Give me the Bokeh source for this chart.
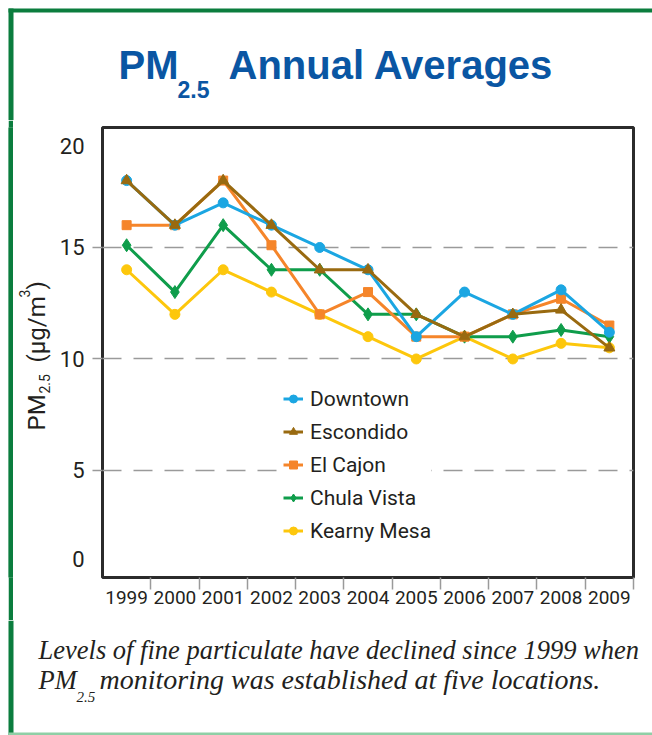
from bokeh.plotting import figure
from bokeh.layouts import column, row
from bokeh.models import FixedTicker, Legend, LegendItem, Range1d, Spacer
from bokeh.core.properties import value
from bokeh.embed import file_html
from bokeh.resources import INLINE
import math

# ---------------- data ----------------
years = [1999, 2000, 2001, 2002, 2003, 2004, 2005, 2006, 2007, 2008, 2009]
year_labels = [str(y) for y in years]
downtown = [18, 16, 17, 16, 15, 14, 11, 13, 12, 13.1, 11.2]
escondido = [18, 16, 18, 16, 14, 14, 12, 11, 12, 12.2, 10.5]
el_cajon = [16, 16, 18, 15.1, 12, 13, 11, 11, 12, 12.7, 11.5]
chula_vista = [15.1, 13, 16, 14, 14, 12, 12, 11, 11, 11.3, 11]
kearny_mesa = [14, 12, 14, 13, 12, 11, 10, 11, 10, 10.7, 10.5]
y_grid_values = [5, 10, 15]
y_tick_labels = ["0", "5", "10", "15", "20"]

PAGE_W = 652
SANS = "Roboto"
TXT = "#231f20"
GREEN = "#0b7d3e"
LIGHT_GREEN = "#8fcfa6"
BLUE = "#0a56a3"


def pix_fig(w, h, x0=0, y0=0, bt=0, bb=0):
    """Decoration figure whose data units are page pixels (y downward)."""
    f = figure(width=w, height=h, output_backend="svg", toolbar_location=None,
               title=None,
               x_range=Range1d(x0, x0 + w), y_range=Range1d(y0 + h - bb, y0 + bt),
               x_axis_type=None, y_axis_type=None,
               min_border=0, min_border_left=0, min_border_right=0,
               min_border_top=bt, min_border_bottom=bb,
               outline_line_color=None, background_fill_color="white",
               border_fill_color="white")
    return f


def txt(f, text, x, y, size, font, color, style="normal", angle=0.0):
    """x, y: page position of the text's start point on its baseline."""
    if angle == 0.0:
        px, py = x, y - 0.4 * size
    else:  # rotated 90 deg counter-clockwise, baseline is vertical at x
        px, py = x - 0.4 * size, y
    f.text(x=[px], y=[py], text=[text], angle=angle,
           text_font=value(font), text_font_size=f"{size}px",
           text_color=color, text_font_style=style,
           text_align="left", text_baseline="middle")


# ---------------- title strip (page y 0..120) ----------------
T_H = 120
tf = pix_fig(PAGE_W, T_H)
tf.quad(left=[8], right=[PAGE_W], top=[8], bottom=[12], fill_color=GREEN, line_color=None)
tf.quad(left=[8], right=[13], top=[8], bottom=[T_H], fill_color=GREEN, line_color=None)
TFONT = "Liberation Sans"
txt(tf, "PM", 118, 80, 40, TFONT, BLUE, "bold")
txt(tf, "2.5", 177, 98, 23, TFONT, BLUE, "bold")
txt(tf, "Annual Averages", 228, 80, 40, TFONT, BLUE, "bold")

# ---------------- main chart geometry ----------------
M_TOP, M_H = 120, 500
FR_L, FR_R, FR_T, FR_B = 100, 633, 127, 577
BT, BB = FR_T - M_TOP, M_TOP + M_H - FR_B

# left green rule beside the chart
gf = figure(width=5, height=M_H, output_backend="svg", toolbar_location=None, title=None,
            x_axis_type=None, y_axis_type=None, min_border=0, min_border_left=0,
            min_border_right=0, min_border_top=0, min_border_bottom=0,
            outline_line_color=None, background_fill_color=GREEN, border_fill_color=GREEN,
            x_range=Range1d(0, 1), y_range=Range1d(0, 1))
gf.quad(left=[0], right=[1], bottom=[0], top=[1], fill_color=GREEN, line_color=None)

# y-axis title (page x 13..56), frame aligned with the chart frame
YL_X0, YL_W = 13, 43
yf = pix_fig(YL_W, M_H, x0=YL_X0, y0=M_TOP, bt=BT, bb=BB)
A = math.pi / 2
txt(yf, "PM", 46, 430, 24, SANS, TXT, angle=A)
txt(yf, "2.5", 50, 393, 14, SANS, TXT, angle=A)
txt(yf, "(µg/m", 46, 362, 24, SANS, TXT, angle=A)
txt(yf, "3", 30, 297, 14, SANS, TXT, angle=A)
txt(yf, ")", 46, 289, 24, SANS, TXT, angle=A)

# main chart (page x 56..652, y 120..620)
CH_X0 = YL_X0 + YL_W
MW = PAGE_W - CH_X0
p = figure(width=MW, height=M_H, output_backend="svg", toolbar_location=None,
           title=None,
           x_range=Range1d(1998.5, 2009.5), y_range=Range1d(0.2, 20.38),
           min_border_left=FR_L - CH_X0, min_border_right=PAGE_W - FR_R,
           min_border_top=BT, min_border_bottom=BB,
           background_fill_color="white", border_fill_color="white")

p.outline_line_color = "#2b2b2b"
p.outline_line_width = 3
p.xgrid.visible = False
p.ygrid.ticker = FixedTicker(ticks=y_grid_values)
p.ygrid.grid_line_color = "#9a9a9a"
p.ygrid.grid_line_width = 1.5
p.ygrid.grid_line_dash = "19 12"

xa = p.xaxis[0]
xa.ticker = FixedTicker(ticks=years, minor_ticks=[y + 0.5 for y in years])
xa.major_label_overrides = {y: l for y, l in zip(years, year_labels)}
xa.major_tick_line_color = None
xa.major_tick_out = 0
xa.major_tick_in = 0
xa.minor_tick_line_color = "#9a9a9a"
xa.minor_tick_line_width = 1.5
xa.minor_tick_out = 12
xa.minor_tick_in = 0
xa.axis_line_color = None
xa.major_label_standoff = 1
xa.major_label_text_font = SANS
xa.major_label_text_font_size = "19px"
xa.major_label_text_color = TXT

ya = p.yaxis[0]
ytick_pos = [1.05, 5, 10, 15, 19.53]
ya.ticker = FixedTicker(ticks=ytick_pos, minor_ticks=y_grid_values)
ya.major_label_overrides = {v: l for v, l in zip(ytick_pos, y_tick_labels)}
ya.major_tick_line_color = None
ya.major_tick_out = 0
ya.major_tick_in = 0
ya.minor_tick_line_color = "#9a9a9a"
ya.minor_tick_line_width = 1.5
ya.minor_tick_out = 10
ya.minor_tick_in = 0
ya.axis_line_color = None
ya.major_label_standoff = 8
ya.major_label_text_font = SANS
ya.major_label_text_font_size = "22px"
ya.major_label_text_color = TXT

series = {
    "Kearny Mesa": (kearny_mesa, "#fdc70c", "circle", 10),
    "Chula Vista": (chula_vista, "#0f9d4b", "diamond", 13),
    "El Cajon": (el_cajon, "#f5852a", "square", 9),
    "Downtown": (downtown, "#1ba6e2", "circle", 10),
    "Escondido": (escondido, "#996a10", "triangle", 11),
}
rends = {}
for name, (vals, color, marker, size) in series.items():
    rl = p.line(years, vals, line_color=color, line_width=3)
    rs = p.scatter(years, vals, marker=marker, size=size, fill_color=color, line_color=color)
    rends[name] = [rl, rs]

legend_order = ["Downtown", "Escondido", "El Cajon", "Chula Vista", "Kearny Mesa"]
legend = Legend(items=[LegendItem(label=n, renderers=rends[n]) for n in legend_order],
                location=(181, 33), orientation="vertical",
                background_fill_color="white", background_fill_alpha=1.0,
                border_line_color=None,
                label_text_font=SANS, label_text_font_size="21px", label_text_color=TXT,
                glyph_width=20, glyph_height=27, label_height=27, spacing=6,
                padding=12, margin=0, label_standoff=7)
p.add_layout(legend, "center")

# ---------------- caption strip (page y 620..735) ----------------
C_TOP = M_TOP + M_H
C_H = 735 - C_TOP
cf = pix_fig(PAGE_W, C_H, x0=0, y0=C_TOP)
cf.quad(left=[8], right=[13], top=[C_TOP], bottom=[735], fill_color=GREEN, line_color=None)
cf.quad(left=[8], right=[PAGE_W], top=[732], bottom=[735], fill_color=LIGHT_GREEN, line_color=None)
SERIF = "Liberation Serif"
txt(cf, "Levels of fine particulate have declined since 1999 when", 38, 660, 26.5, SERIF, TXT, "italic")
txt(cf, "PM", 38, 690, 26.5, SERIF, TXT, "italic")
txt(cf, "2.5", 76, 702, 15, SERIF, TXT, "italic")
txt(cf, "monitoring was established at five locations.", 99, 690, 28, SERIF, TXT, "italic")

layout = column(tf, row(Spacer(width=8, height=M_H), gf, yf, p), cf)
open("out.html", "w").write(file_html(layout, INLINE))
